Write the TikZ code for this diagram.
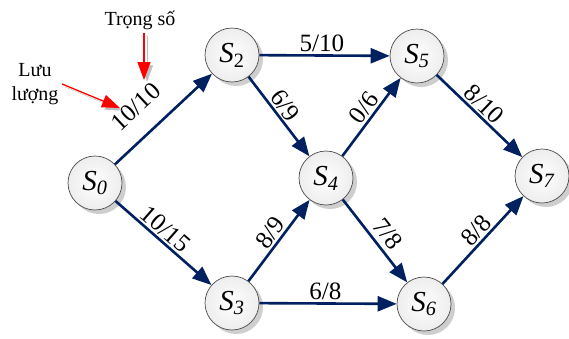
\documentclass[tikz,border=0pt]{standalone}
\usepackage{fontspec}
\setmainfont{Liberation Serif}
\usetikzlibrary{arrows.meta,shadows}
\definecolor{navy}{RGB}{0,32,96}

\begin{document}
\begin{tikzpicture}[x=1pt, y=-1pt,
    state/.style={circle, draw=black!70, line width=0.7pt, minimum size=54pt,
      inner sep=0pt, inner color=white, outer color=gray!14,
      drop shadow={shadow xshift=4pt, shadow yshift=-4pt, fill=gray!55, opacity=0.7},
      font=\fontsize{29}{32}\selectfont},
    flow/.style={-{Triangle[length=19pt, width=15pt]}, line width=2.6pt, navy},
    wlab/.style={sloped, above, inner sep=2pt, text=black,
      font=\fontsize{25}{27}\selectfont},
    hint/.style={-{Triangle[length=18pt, width=13pt]}, line width=1.3pt, red,
      preaction={draw=gray!50, transform canvas={shift={(3pt,-3pt)}}}},
    note/.style={font=\fontsize{20}{24}\selectfont, align=center}
  ]
  \useasboundingbox (0,0) rectangle (569,338);

  % vertices
  \node[state] (s0) at (95,183)  {\textit{S}\textsubscript{\textit{0}}};
  \node[state] (s2) at (232,55)  {\textit{S}\textsubscript{2}};
  \node[state] (s5) at (417,56)  {\textit{S}\textsubscript{\textit{5}}};
  \node[state] (s4) at (326,178) {\textit{S}\textsubscript{\textit{4}}};
  \node[state] (s7) at (542,176) {\textit{S}\textsubscript{\textit{7}}};
  \node[state] (s3) at (232,303) {\textit{S}\textsubscript{\textit{3}}};
  \node[state] (s6) at (424,304) {\textit{S}\textsubscript{\textit{6}}};

  % arcs: flow/capacity
  \draw[flow] (s0) -- node[wlab, pos=.41, above=16pt] (w02) {10/10} (s2);
  \draw[flow] (s0) -- node[wlab, pos=.44] (w03) {10/15} (s3);
  \draw[flow] (s2) -- node[wlab, pos=.48] (w25) {5/10} (s5);
  \draw[flow] (s2) -- node[wlab, pos=.45] (w24) {6/9} (s4);
  \draw[flow] (s4) -- node[wlab, pos=.53] (w45) {0/6} (s5);
  \draw[flow] (s5) -- node[wlab, pos=.46] (w57) {8/10} (s7);
  \draw[flow] (s3) -- node[wlab, pos=.51] (w34) {8/9} (s4);
  \draw[flow] (s4) -- node[wlab, pos=.52, above=3pt] (w46) {7/8} (s6);
  \draw[flow] (s3) -- node[wlab, pos=.48] (w36) {6/8} (s6);
  \draw[flow] (s6) -- node[wlab, pos=.52] (w67) {8/8} (s7);

  % legend arrows
  \node[note] (wtxt) at (140,20) {Trọng số};
  \coordinate (wtip) at (144,80);
  \draw[hint] ([xshift=4pt]wtxt.south) -- (wtip);
  \node[note] (ftxt) at (35,84) {Lưu\\lượng};
  \coordinate (ftip) at (120,108);
  \draw[hint] (ftxt.east) -- (ftip);
\end{tikzpicture}
\end{document}
